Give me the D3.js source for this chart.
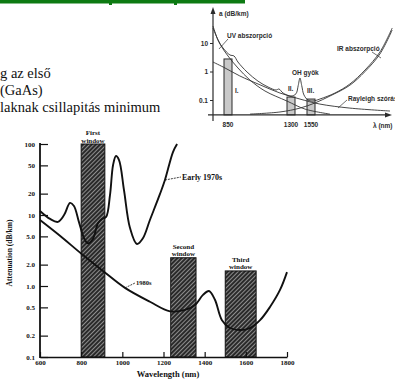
<!DOCTYPE html>
<html><head><meta charset="utf-8">
<script src="https://cdnjs.cloudflare.com/ajax/libs/d3/7.8.5/d3.min.js"></script>
<style>html,body{margin:0;padding:0;background:#fff;overflow:hidden}</style>
</head><body><svg id="c" width="395" height="387"></svg>
<script>
// ---------- data: main chart ----------
const mainXTicks = [600, 800, 1000, 1200, 1400, 1600, 1800];
const mainYTicks = [100, 50, 20, 10, 5, 2, 1, 0.5, 0.2, 0.1];
const mainYTickLabels = ["100", "50", "20", "10", "5.0", "2.0", "1.0", "0.5", "0.2", "0.1"];
const windowNames = [["First", "window"], ["Second", "window"], ["Third", "window"]];
const windowStart = [800, 1235, 1500];
const windowEnd = [915, 1358, 1650];
const windowTop = [100, 2.5, 1.63];
const early1970sNm = [600, 649, 687, 717, 746, 765, 789, 814, 833, 857, 882, 901, 921, 940, 955, 969, 984, 1008, 1037, 1071, 1100, 1134, 1183, 1207, 1246, 1266];
const early1970sDb = [11.4, 8.8, 8.0, 10, 14.8, 13.4, 8.0, 4.7, 4.0, 4.6, 7.7, 8.8, 9.4, 19.1, 50.6, 67.8, 59.5, 22.5, 6.6, 3.9, 4.7, 8.5, 19.8, 31.1, 77, 100];
const s1980sNm = [600, 697, 804, 906, 1013, 1134, 1232, 1304, 1353, 1392, 1421, 1450, 1484, 1523, 1572, 1620, 1669, 1718, 1766, 1800];
const s1980sDb = [8.5, 5.1, 2.8, 1.63, 0.94, 0.60, 0.44, 0.46, 0.54, 0.75, 0.85, 0.64, 0.33, 0.256, 0.24, 0.256, 0.33, 0.51, 0.88, 1.57];

// ---------- data: small schematic chart ----------
const bandLabels = ["I.", "II.", "III."];
const bandNm = [850, 1300, 1550];
const bandTop = [2.75, 0.127, 0.108];
const smallYTicks = [10, 1, 0.1];
const smallYTickLabels = ["10", "1", "0.1"];
const smallXTickLabels = ["850", "1300", "1550"];
const totalNm = [700, 750, 800, 864, 893, 921, 986, 1064, 1136, 1193, 1214, 1243, 1300, 1362, 1390, 1412, 1434, 1462, 1512, 1556, 1578, 1626, 1673, 1721, 1768, 1807];
const totalDb = [39.5, 12.7, 6.7, 3.8, 3.5, 2.15, 0.96, 0.46, 0.286, 0.224, 0.243, 0.176, 0.138, 0.165, 0.32, 0.59, 0.32, 0.15, 0.1, 0.092, 0.108, 0.176, 0.364, 1.13, 4.8, 33.6];
const uvNm = [700, 770, 850, 921, 1007, 1114, 1271, 1475, 1610];
const uvDb = [33.6, 9.2, 3.5, 1.33, 0.50, 0.207, 0.092, 0.048, 0.032];
const rayNm = [700, 820, 934, 1079, 1221, 1412, 1578, 1673, 1800];
const rayDb = [2.15, 1.33, 0.70, 0.34, 0.176, 0.108, 0.072, 0.052, 0.041];
const irNm = [1007, 1221, 1412, 1563, 1610, 1673, 1721, 1768, 1807];
const irDb = [0.032, 0.038, 0.052, 0.079, 0.138, 0.33, 1.0, 4.1, 28.6];

// ---------- data: slide text ----------
const slideLines = ["g az első", "(GaAs)", "laknak csillapitás minimum"];

const svg = d3.select("#c");
const defs = svg.append("defs");
const pat = defs.append("pattern").attr("id", "hatch").attr("patternUnits", "userSpaceOnUse")
  .attr("width", 3).attr("height", 3).attr("patternTransform", "rotate(45)");
pat.append("rect").attr("width", 3).attr("height", 3).attr("fill", "#2a2a2a");
pat.append("line").attr("x1", 0.5).attr("y1", 0).attr("x2", 0.5).attr("y2", 3)
  .attr("stroke", "#b8b8b8").attr("stroke-width", 0.7);

// green header rule
svg.append("rect").attr("x", 0).attr("y", 0).attr("width", 245).attr("height", 3.5).attr("fill", "#0d7a12");
[109, 174].forEach(v => svg.append("rect").attr("x", v).attr("y", 0).attr("width", 3).attr("height", 5).attr("fill", "#0d7a12"));

// slide text
svg.selectAll("text.slide").data(slideLines).join("text").attr("class", "slide")
  .attr("x", 0).attr("y", (d, i) => 78 + i * 17)
  .attr("font-family", "'Liberation Serif', serif").attr("font-size", 14.5).attr("fill", "#111")
  .text(d => d);

// ---------- main chart ----------
const serif = "'Liberation Serif', 'DejaVu Serif', serif";
const x = d3.scaleLinear().domain([600, 1800]).range([40, 287]);
const y = d3.scaleLog().domain([0.1, 100]).range([357, 144]);
const main = svg.append("g");

// windows
const windows = windowStart.map((s, i) => ({ s, e: windowEnd[i], top: windowTop[i], name: windowNames[i] }));
main.selectAll("rect.win").data(windows).join("rect").attr("class", "win")
  .attr("x", d => x(d.s)).attr("width", d => x(d.e) - x(d.s))
  .attr("y", d => y(d.top)).attr("height", d => y(0.1) - y(d.top))
  .attr("fill", "url(#hatch)").attr("stroke", "#111").attr("stroke-width", 1);
windows.forEach(d => {
  const cx = (x(d.s) + x(d.e)) / 2;
  d.name.forEach((t, j) => {
    main.append("text").attr("x", cx).attr("y", y(d.top) - 9 + j * 7.5)
      .attr("text-anchor", "middle").attr("font-family", serif).attr("font-weight", "bold")
      .attr("font-size", 7).attr("fill", "#111").text(t);
  });
});

// axes
const yAxis = d3.axisLeft(y).tickValues(mainYTicks).tickFormat((d, i) => mainYTickLabels[i])
  .tickSizeInner(-8).tickSizeOuter(0).tickPadding(5);
const gy = main.append("g").attr("transform", "translate(40,0)").call(yAxis);
gy.select(".domain").remove();
gy.selectAll("line").attr("stroke", "#111").attr("stroke-width", 1.2);
gy.selectAll("text").attr("font-family", serif).attr("font-weight", "bold").attr("font-size", 7).attr("fill", "#111");
main.append("line").attr("x1", 40).attr("x2", 40).attr("y1", y(100) - 1).attr("y2", y(0.1) + 1)
  .attr("stroke", "#111").attr("stroke-width", 1.8);

const xAxis = d3.axisBottom(x).tickValues(mainXTicks).tickFormat(d3.format("d"))
  .tickSizeInner(-5).tickSizeOuter(0).tickPadding(3);
const gx = main.append("g").attr("transform", `translate(0,${y(0.1)})`).call(xAxis);
gx.select(".domain").attr("stroke", "#111").attr("stroke-width", 1.6);
gx.selectAll("line").attr("stroke", "#111").attr("stroke-width", 1.2);
gx.selectAll("text").attr("font-family", serif).attr("font-weight", "bold").attr("font-size", 7).attr("fill", "#111");

main.append("text").attr("x", 168).attr("y", 377).attr("text-anchor", "middle")
  .attr("font-family", serif).attr("font-weight", "bold").attr("font-size", 8.5).attr("fill", "#111")
  .text("Wavelength (nm)");
main.append("text").attr("transform", "translate(12,253) rotate(-90)").attr("text-anchor", "middle")
  .attr("font-family", serif).attr("font-weight", "bold").attr("font-size", 7.5).attr("fill", "#111")
  .text("Attenuation (dB/km)");

// curves
const line = d3.line().x(d => x(d[0])).y(d => y(d[1])).curve(d3.curveCatmullRom.alpha(0.5));
const e70 = early1970sNm.map((v, i) => [v, early1970sDb[i]]);
const s80 = s1980sNm.map((v, i) => [v, s1980sDb[i]]);
main.append("path").attr("d", line(e70)).attr("fill", "none").attr("stroke", "#111").attr("stroke-width", 1.9);
main.append("path").attr("d", line(s80)).attr("fill", "none").attr("stroke", "#111").attr("stroke-width", 1.9);

// curve labels
main.append("line").attr("x1", x(1207)).attr("y1", y(31.1)).attr("x2", 181).attr("y2", 177)
  .attr("stroke", "#111").attr("stroke-width", 0.8).attr("stroke-dasharray", "2,1");
main.append("text").attr("x", 182).attr("y", 180).attr("font-family", serif).attr("font-weight", "bold")
  .attr("font-size", 8).attr("fill", "#111").text("Early 1970s");
main.append("line").attr("x1", x(1013)).attr("y1", y(0.94)).attr("x2", 135).attr("y2", 283)
  .attr("stroke", "#111").attr("stroke-width", 0.8).attr("stroke-dasharray", "2,1");
main.append("text").attr("x", 136).attr("y", 285).attr("font-family", serif).attr("font-weight", "bold")
  .attr("font-size", 6.5).attr("fill", "#111").text("1980s");

// ---------- small schematic chart ----------
const sans = "'Liberation Sans', Arial, sans-serif";
const sx = d3.scaleLinear().domain([700, 850, 1300, 1550, 1800]).range([213, 228, 291, 311, 390]);
const sy = d3.scaleLog().domain([0.1, 10]).range([100, 43]);
const smallBase = 0.03;
const sm = svg.append("g");
const ink = "#2b2b2b";

// bars
const bandW = 8;
sm.selectAll("rect.band").data(bandNm).join("rect").attr("class", "band")
  .attr("x", d => sx(d) - bandW / 2).attr("width", bandW)
  .attr("y", (d, i) => sy(bandTop[i])).attr("height", (d, i) => sy(smallBase) - sy(bandTop[i]))
  .attr("fill", "#c9c9c9").attr("stroke", ink).attr("stroke-width", 1);

// curves
const sline = d3.line().x(d => sx(d[0])).y(d => sy(d[1])).curve(d3.curveCatmullRom.alpha(0.5));
[[totalNm, totalDb], [uvNm, uvDb], [rayNm, rayDb], [irNm, irDb]].forEach(([a, b]) => {
  sm.append("path").attr("d", sline(a.map((v, i) => [v, b[i]]))).attr("fill", "none")
    .attr("stroke", "#333").attr("stroke-width", 0.9);
});

// axes
sm.append("line").attr("x1", 213).attr("x2", 213).attr("y1", sy(smallBase) + 6).attr("y2", 12)
  .attr("stroke", ink).attr("stroke-width", 1.2);
sm.append("path").attr("d", "M213,7L210.5,14L215.5,14Z").attr("fill", ink);
sm.append("line").attr("x1", 208).attr("x2", 387).attr("y1", sy(smallBase)).attr("y2", sy(smallBase))
  .attr("stroke", ink).attr("stroke-width", 1.2);
sm.append("path").attr("d", `M392,${sy(smallBase)}L385,${sy(smallBase) - 2.5}L385,${sy(smallBase) + 2.5}Z`).attr("fill", ink);

const syAxis = d3.axisLeft(sy).tickValues(smallYTicks).tickFormat((d, i) => smallYTickLabels[i])
  .tickSizeInner(3).tickSizeOuter(0).tickPadding(2);
const gsy = sm.append("g").attr("transform", "translate(213,0)").call(syAxis);
gsy.select(".domain").remove();
gsy.selectAll("line").attr("stroke", ink);
gsy.selectAll("text").attr("font-family", sans).attr("font-weight", "bold").attr("font-size", 6.5).attr("fill", ink);

sm.selectAll("text.bx").data(bandNm).join("text").attr("class", "bx")
  .attr("x", d => sx(d)).attr("y", sy(smallBase) + 12).attr("text-anchor", "middle")
  .attr("font-family", sans).attr("font-weight", "bold").attr("font-size", 6.5).attr("fill", ink)
  .text((d, i) => smallXTickLabels[i]);

const stext = (tx, ty, t, opts = {}) => sm.append("text").attr("x", tx).attr("y", ty)
  .attr("font-family", sans).attr("font-weight", "bold").attr("font-size", opts.size || 6.5)
  .attr("fill", ink).attr("text-anchor", opts.anchor || "start").text(t);

stext(219, 16, "a (dB/km)");
stext(373, 128, "λ (nm)");
stext(227, 38, "UV abszorpció");
stext(292, 75, "OH gyök");
stext(337, 51, "IR abszorpció");
stext(348, 101, "Rayleigh szórás");
stext(sx(850) + 7, 93, bandLabels[0]);
stext(sx(1300) - 3, 91, bandLabels[1]);
stext(sx(1550) - 4, 93, bandLabels[2]);

// leaders
[[228, 39, 219, 49], [372, 52, 381, 58], [347, 100, 338, 108]].forEach(([a, b, c, d]) =>
  sm.append("line").attr("x1", a).attr("y1", b).attr("x2", c).attr("y2", d).attr("stroke", "#333").attr("stroke-width", 0.7));
</script>
</body></html>
